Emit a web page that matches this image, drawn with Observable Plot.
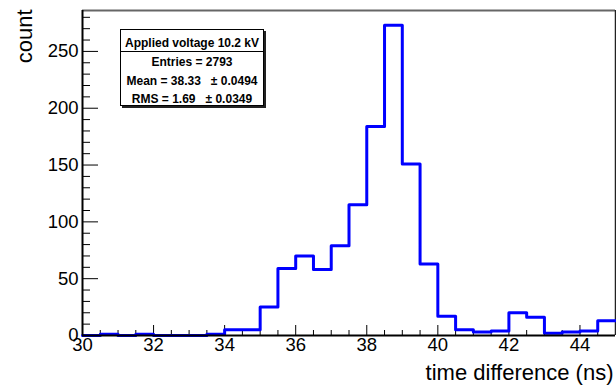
<!DOCTYPE html>
<html><head><meta charset="utf-8">
<script src="https://cdn.jsdelivr.net/npm/d3@7"></script>
<script src="https://cdn.jsdelivr.net/npm/@observablehq/plot@0.6"></script>
<style>
body{margin:0;background:#fff;}
#wrap{position:relative;width:616px;height:385px;overflow:hidden;}
.stats{position:absolute;left:120px;top:29px;width:144px;height:77px;border:1px solid #000;background:#fff;box-shadow:2px 2px 0 #222;box-sizing:border-box;font:bold 12px "Liberation Sans",Arial,sans-serif;color:#000;}
.stats div{position:absolute;left:0;right:0;text-align:center;white-space:pre;line-height:14px;}
.stats .hdr{top:6px;}
.stats .sep{top:21px;height:0;border-top:1px solid #000;}
</style>
</head><body>
<div id="wrap"></div>
<script>
// Histogram data (bin lower edges in ns, counts per bin)
const binLow = [30,30.5,31,31.5,32,32.5,33,33.5,34,34.5,35,35.5,36,36.5,37,37.5,38,38.5,39,39.5,40,40.5,41,41.5,42,42.5,43,43.5,44,44.5];
const counts = [0,1,0,1,0,0,0,1,5,5,25,59,70,58,79,115,184,273,151,63,17,5,3,4,20,16,2,3,4,13];
const xDomain = [30, 45];
const yDomain = [0, 286];
const xMajor = [30,32,34,36,38,40,42,44];
const xMinor = [30.5,31,31.5,32.5,33,33.5,34.5,35,35.5,36.5,37,37.5,38.5,39,39.5,40.5,41,41.5,42.5,43,43.5,44.5];
const yMajor = [0,50,100,150,200,250];
const yMinor = [10,20,30,40,60,70,80,90,110,120,130,140,160,170,180,190,210,220,230,240,260,270,280];
const statsTitle = "Applied voltage 10.2 kV";
const statsLines = ["Entries = 2793", "Mean = 38.33   \u00b1 0.0494", "RMS = 1.69   \u00b1 0.0349"];
const xTitle = "time difference (ns)";
const yTitle = "count";

const W = 616, H = 385, mL = 82, mR = 1, mT = 10, mB = 50;
const pw = W - mL - mR, ph = H - mT - mB;

const steps = binLow.map((x, i) => ({x, y: counts[i]}));
steps.push({x: xDomain[1], y: counts[counts.length - 1]});

const font = '"Liberation Sans", Arial, Helvetica, sans-serif';

const chart = Plot.plot({
  width: W, height: H,
  marginLeft: mL, marginRight: mR, marginTop: mT, marginBottom: mB,
  style: {fontFamily: font, fontSize: "18.5px", color: "#000", background: "#fff"},
  x: {domain: xDomain},
  y: {domain: yDomain},
  marks: [
    Plot.axisY(yMajor, {tickSize: 0, tickPadding: 4, label: null, fontSize: 18.5}),
    Plot.axisX(xMajor, {tickSize: 0, tickPadding: 2, label: null, fontSize: 18.5}),
    // inward ticks
    Plot.tickY(yMajor, {y: d => d, stroke: "#000", strokeWidth: 1, insetRight: pw - 16}),
    Plot.tickY(yMinor, {y: d => d, stroke: "#000", strokeWidth: 1, insetRight: pw - 8}),
    Plot.tickX(xMajor, {x: d => d, stroke: "#000", strokeWidth: 1, insetTop: ph - 10}),
    Plot.tickX(xMinor, {x: d => d, stroke: "#000", strokeWidth: 1, insetTop: ph - 5}),
    // frame
    Plot.ruleY([yDomain[1]], {stroke: "#666", strokeWidth: 2}),
    Plot.ruleX([xDomain[1]], {stroke: "#222", strokeWidth: 1.5}),
    Plot.line(steps, {x: "x", y: "y", curve: "step-after", stroke: "#0000ff", strokeWidth: 3}),
    Plot.ruleX([xDomain[0]], {stroke: "#000", strokeWidth: 2}),
    Plot.ruleY([0], {stroke: "#000", strokeWidth: 2}),
    // axis titles
    Plot.text([yTitle], {text: d => d, frameAnchor: "top-left", rotate: -90, textAnchor: "end", dx: -66, dy: -1, fontSize: 22}),
    Plot.text([xTitle], {text: d => d, frameAnchor: "bottom-right", textAnchor: "end", dx: -2, dy: 44, fontSize: 22})
  ]
});

const wrap = document.getElementById("wrap");
wrap.appendChild(chart);
const box = document.createElement("div");
box.className = "stats";
box.innerHTML = `<div class="hdr">${statsTitle}</div><div class="sep"></div>` +
  statsLines.map((t, i) => `<div style="top:${25 + i * 18.5}px">${t}</div>`).join("");
wrap.appendChild(box);
</script>
</body></html>
